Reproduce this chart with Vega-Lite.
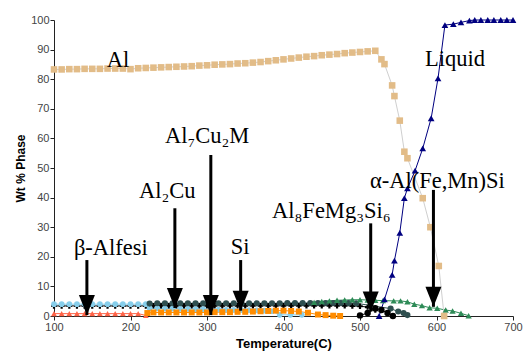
{
  "$schema": "https://vega.github.io/schema/vega-lite/v6.json",
  "width": 459,
  "height": 296,
  "autosize": {"type": "none"},
  "padding": {"left": 54, "top": 20, "right": 10, "bottom": 40},
  "background": "white",
  "config": {"view": {"stroke": null}, "axis": {"labelOverlap": false, "labelFlush": false, "labelBound": false}},
  "datasets": {
    "series": [
      {"s": "BlackX", "t": 100, "v": 3.4}, {"s": "BlackX", "t": 110, "v": 3.4}, {"s": "BlackX", "t": 120, "v": 3.4}, {"s": "BlackX", "t": 130, "v": 3.4}, {"s": "BlackX", "t": 140, "v": 3.4}, {"s": "BlackX", "t": 150, "v": 3.4}, {"s": "BlackX", "t": 160, "v": 3.4}, {"s": "BlackX", "t": 170, "v": 3.4}, {"s": "BlackX", "t": 180, "v": 3.4}, {"s": "BlackX", "t": 190, "v": 3.4}, {"s": "BlackX", "t": 200, "v": 3.4}, {"s": "BlackX", "t": 210, "v": 3.4}, {"s": "BlackX", "t": 220, "v": 3.4}, {"s": "BlackX", "t": 230, "v": 3.5}, {"s": "BlackX", "t": 240, "v": 3.5}, {"s": "BlackX", "t": 250, "v": 3.5}, {"s": "BlackX", "t": 260, "v": 3.5}, {"s": "BlackX", "t": 270, "v": 3.5}, {"s": "BlackX", "t": 280, "v": 3.5}, {"s": "BlackX", "t": 290, "v": 3.5}, {"s": "BlackX", "t": 300, "v": 3.5}, {"s": "BlackX", "t": 310, "v": 3.5}, {"s": "BlackX", "t": 320, "v": 3.5}, {"s": "BlackX", "t": 330, "v": 3.5}, {"s": "BlackX", "t": 340, "v": 3.5}, {"s": "BlackX", "t": 350, "v": 3.5}, {"s": "BlackX", "t": 360, "v": 3.5}, {"s": "BlackX", "t": 370, "v": 3.5}, {"s": "BlackX", "t": 380, "v": 3.5}, {"s": "BlackX", "t": 390, "v": 3.5}, {"s": "BlackX", "t": 400, "v": 3.5}, {"s": "BlackX", "t": 410, "v": 3.5}, {"s": "BlackX", "t": 420, "v": 3.5}, {"s": "BlackX", "t": 430, "v": 3.5}, {"s": "BlackX", "t": 440, "v": 3.5}, {"s": "BlackX", "t": 450, "v": 3.5}, {"s": "BlackX", "t": 460, "v": 3.5}, {"s": "BlackX", "t": 470, "v": 3.5}, {"s": "BlackX", "t": 480, "v": 3.5}, {"s": "BlackX", "t": 490, "v": 3.4}, {"s": "BlackX", "t": 500, "v": 3.3}, {"s": "BlackX", "t": 510, "v": 3.0}, {"s": "BlackX", "t": 520, "v": 2.0},
      {"s": "Sky", "t": 100, "v": 4.0}, {"s": "Sky", "t": 110, "v": 4.0}, {"s": "Sky", "t": 120, "v": 4.0}, {"s": "Sky", "t": 130, "v": 4.0}, {"s": "Sky", "t": 140, "v": 4.0}, {"s": "Sky", "t": 150, "v": 4.0}, {"s": "Sky", "t": 160, "v": 4.0}, {"s": "Sky", "t": 170, "v": 4.0}, {"s": "Sky", "t": 180, "v": 4.0}, {"s": "Sky", "t": 190, "v": 4.0}, {"s": "Sky", "t": 200, "v": 4.0}, {"s": "Sky", "t": 210, "v": 4.0}, {"s": "Sky", "t": 220, "v": 4.0}, {"s": "Sky", "t": 225, "v": 2.6}, {"s": "Sky", "t": 235, "v": 2.6}, {"s": "Sky", "t": 245, "v": 2.5}, {"s": "Sky", "t": 255, "v": 2.5}, {"s": "Sky", "t": 265, "v": 2.4}, {"s": "Sky", "t": 275, "v": 2.4}, {"s": "Sky", "t": 285, "v": 2.3}, {"s": "Sky", "t": 295, "v": 2.3}, {"s": "Sky", "t": 305, "v": 2.2}, {"s": "Sky", "t": 315, "v": 2.2}, {"s": "Sky", "t": 325, "v": 2.1}, {"s": "Sky", "t": 335, "v": 2.1}, {"s": "Sky", "t": 345, "v": 2.0}, {"s": "Sky", "t": 355, "v": 2.0}, {"s": "Sky", "t": 365, "v": 1.9}, {"s": "Sky", "t": 375, "v": 1.8}, {"s": "Sky", "t": 385, "v": 1.6}, {"s": "Sky", "t": 395, "v": 0.4}, {"s": "Sky", "t": 409, "v": 0.4}, {"s": "Sky", "t": 424, "v": 0.4},
      {"s": "Tomato", "t": 100, "v": 0.8}, {"s": "Tomato", "t": 110, "v": 0.8}, {"s": "Tomato", "t": 120, "v": 0.8}, {"s": "Tomato", "t": 130, "v": 0.8}, {"s": "Tomato", "t": 140, "v": 0.8}, {"s": "Tomato", "t": 150, "v": 0.8}, {"s": "Tomato", "t": 160, "v": 0.8}, {"s": "Tomato", "t": 170, "v": 0.8}, {"s": "Tomato", "t": 180, "v": 0.8}, {"s": "Tomato", "t": 190, "v": 0.8}, {"s": "Tomato", "t": 200, "v": 0.8}, {"s": "Tomato", "t": 210, "v": 0.8}, {"s": "Tomato", "t": 220, "v": 0.2},
      {"s": "Orange", "t": 222, "v": 1.0}, {"s": "Orange", "t": 230, "v": 1.2}, {"s": "Orange", "t": 240, "v": 1.2}, {"s": "Orange", "t": 250, "v": 1.2}, {"s": "Orange", "t": 260, "v": 1.2}, {"s": "Orange", "t": 270, "v": 1.2}, {"s": "Orange", "t": 280, "v": 1.2}, {"s": "Orange", "t": 290, "v": 1.2}, {"s": "Orange", "t": 300, "v": 1.2}, {"s": "Orange", "t": 310, "v": 1.3}, {"s": "Orange", "t": 320, "v": 1.3}, {"s": "Orange", "t": 330, "v": 1.3}, {"s": "Orange", "t": 340, "v": 1.4}, {"s": "Orange", "t": 350, "v": 1.4}, {"s": "Orange", "t": 360, "v": 1.5}, {"s": "Orange", "t": 370, "v": 1.6}, {"s": "Orange", "t": 380, "v": 1.7}, {"s": "Orange", "t": 390, "v": 1.8}, {"s": "Orange", "t": 400, "v": 1.8}, {"s": "Orange", "t": 410, "v": 1.7}, {"s": "Orange", "t": 420, "v": 1.5}, {"s": "Orange", "t": 432, "v": 1.1}, {"s": "Orange", "t": 445, "v": 0.5}, {"s": "Orange", "t": 455, "v": 0.3}, {"s": "Orange", "t": 465, "v": 0.1}, {"s": "Orange", "t": 474, "v": 0.0},
      {"s": "Slate", "t": 225, "v": 4.2}, {"s": "Slate", "t": 235, "v": 4.3}, {"s": "Slate", "t": 245, "v": 4.3}, {"s": "Slate", "t": 255, "v": 4.3}, {"s": "Slate", "t": 265, "v": 4.3}, {"s": "Slate", "t": 275, "v": 4.3}, {"s": "Slate", "t": 285, "v": 4.3}, {"s": "Slate", "t": 295, "v": 4.3}, {"s": "Slate", "t": 305, "v": 4.3}, {"s": "Slate", "t": 315, "v": 4.3}, {"s": "Slate", "t": 325, "v": 4.3}, {"s": "Slate", "t": 335, "v": 4.3}, {"s": "Slate", "t": 345, "v": 4.3}, {"s": "Slate", "t": 355, "v": 4.3}, {"s": "Slate", "t": 365, "v": 4.3}, {"s": "Slate", "t": 375, "v": 4.3}, {"s": "Slate", "t": 385, "v": 4.3}, {"s": "Slate", "t": 395, "v": 4.3}, {"s": "Slate", "t": 405, "v": 4.4}, {"s": "Slate", "t": 415, "v": 4.4}, {"s": "Slate", "t": 425, "v": 4.4}, {"s": "Slate", "t": 435, "v": 4.4}, {"s": "Slate", "t": 445, "v": 4.4}, {"s": "Slate", "t": 455, "v": 4.4}, {"s": "Slate", "t": 465, "v": 4.4}, {"s": "Slate", "t": 475, "v": 4.4}, {"s": "Slate", "t": 485, "v": 4.4}, {"s": "Slate", "t": 495, "v": 4.3}, {"s": "Slate", "t": 540, "v": 2.5}, {"s": "Slate", "t": 550, "v": 1.5}, {"s": "Slate", "t": 557, "v": 1.0}, {"s": "Slate", "t": 562, "v": 0.3},
      {"s": "Green", "t": 440, "v": 4.6}, {"s": "Green", "t": 450, "v": 4.9}, {"s": "Green", "t": 460, "v": 5.1}, {"s": "Green", "t": 470, "v": 5.3}, {"s": "Green", "t": 480, "v": 5.4}, {"s": "Green", "t": 490, "v": 5.5}, {"s": "Green", "t": 500, "v": 5.5}, {"s": "Green", "t": 510, "v": 5.4}, {"s": "Green", "t": 520, "v": 5.3}, {"s": "Green", "t": 530, "v": 5.2}, {"s": "Green", "t": 544, "v": 5.1}, {"s": "Green", "t": 553, "v": 5.1}, {"s": "Green", "t": 562, "v": 4.8}, {"s": "Green", "t": 571, "v": 4.0}, {"s": "Green", "t": 581, "v": 3.5}, {"s": "Green", "t": 591, "v": 2.8}, {"s": "Green", "t": 601, "v": 2.6}, {"s": "Green", "t": 612, "v": 2.0}, {"s": "Green", "t": 621, "v": 1.7}, {"s": "Green", "t": 632, "v": 0.9}, {"s": "Green", "t": 642, "v": 0.1},
      {"s": "BlackO", "t": 500, "v": 0.2}, {"s": "BlackO", "t": 510, "v": 1.0}, {"s": "BlackO", "t": 520, "v": 2.6}, {"s": "BlackO", "t": 528, "v": 2.0}, {"s": "BlackO", "t": 536, "v": 1.0}, {"s": "BlackO", "t": 543, "v": 0.0},
      {"s": "Al", "t": 100, "v": 83.3}, {"s": "Al", "t": 110, "v": 83.3}, {"s": "Al", "t": 120, "v": 83.4}, {"s": "Al", "t": 130, "v": 83.4}, {"s": "Al", "t": 140, "v": 83.5}, {"s": "Al", "t": 150, "v": 83.5}, {"s": "Al", "t": 160, "v": 83.5}, {"s": "Al", "t": 170, "v": 83.6}, {"s": "Al", "t": 180, "v": 83.6}, {"s": "Al", "t": 190, "v": 83.6}, {"s": "Al", "t": 200, "v": 83.4}, {"s": "Al", "t": 210, "v": 83.7}, {"s": "Al", "t": 220, "v": 83.8}, {"s": "Al", "t": 230, "v": 83.9}, {"s": "Al", "t": 240, "v": 84.0}, {"s": "Al", "t": 250, "v": 84.1}, {"s": "Al", "t": 260, "v": 84.2}, {"s": "Al", "t": 270, "v": 84.3}, {"s": "Al", "t": 280, "v": 84.4}, {"s": "Al", "t": 290, "v": 84.6}, {"s": "Al", "t": 300, "v": 84.7}, {"s": "Al", "t": 310, "v": 84.9}, {"s": "Al", "t": 320, "v": 85.0}, {"s": "Al", "t": 330, "v": 85.1}, {"s": "Al", "t": 340, "v": 85.3}, {"s": "Al", "t": 350, "v": 85.4}, {"s": "Al", "t": 360, "v": 85.6}, {"s": "Al", "t": 370, "v": 85.8}, {"s": "Al", "t": 380, "v": 86.1}, {"s": "Al", "t": 390, "v": 86.4}, {"s": "Al", "t": 400, "v": 86.7}, {"s": "Al", "t": 410, "v": 87.0}, {"s": "Al", "t": 420, "v": 87.3}, {"s": "Al", "t": 430, "v": 87.6}, {"s": "Al", "t": 440, "v": 87.8}, {"s": "Al", "t": 450, "v": 88.1}, {"s": "Al", "t": 460, "v": 88.3}, {"s": "Al", "t": 470, "v": 88.5}, {"s": "Al", "t": 480, "v": 88.8}, {"s": "Al", "t": 490, "v": 89.0}, {"s": "Al", "t": 500, "v": 89.2}, {"s": "Al", "t": 510, "v": 89.4}, {"s": "Al", "t": 520, "v": 89.6}, {"s": "Al", "t": 528, "v": 86.7}, {"s": "Al", "t": 532, "v": 85.1}, {"s": "Al", "t": 542, "v": 77.9}, {"s": "Al", "t": 545, "v": 74.3}, {"s": "Al", "t": 552, "v": 66.0}, {"s": "Al", "t": 558, "v": 55.5}, {"s": "Al", "t": 562, "v": 53.3}, {"s": "Al", "t": 582, "v": 39.8}, {"s": "Al", "t": 592, "v": 30.0}, {"s": "Al", "t": 603, "v": 16.9}, {"s": "Al", "t": 610, "v": 0.0},
      {"s": "Liquid", "t": 525, "v": 0.0}, {"s": "Liquid", "t": 532, "v": 5.6}, {"s": "Liquid", "t": 542, "v": 13.9}, {"s": "Liquid", "t": 545, "v": 18.7}, {"s": "Liquid", "t": 552, "v": 28.1}, {"s": "Liquid", "t": 558, "v": 39.8}, {"s": "Liquid", "t": 562, "v": 43.1}, {"s": "Liquid", "t": 572, "v": 49.1}, {"s": "Liquid", "t": 582, "v": 56.6}, {"s": "Liquid", "t": 593, "v": 66.8}, {"s": "Liquid", "t": 602, "v": 80.3}, {"s": "Liquid", "t": 611, "v": 98.3}, {"s": "Liquid", "t": 622, "v": 98.6}, {"s": "Liquid", "t": 632, "v": 99.2}, {"s": "Liquid", "t": 643, "v": 99.8}, {"s": "Liquid", "t": 650, "v": 100}, {"s": "Liquid", "t": 658, "v": 100}, {"s": "Liquid", "t": 667, "v": 100}, {"s": "Liquid", "t": 675, "v": 100}, {"s": "Liquid", "t": 684, "v": 100}, {"s": "Liquid", "t": 692, "v": 100}, {"s": "Liquid", "t": 700, "v": 100}
    ],
    "arrows": [
      {"t": 143, "top": 18.9, "tip": 0.3},
      {"t": 258, "top": 36.4, "tip": 2.7},
      {"t": 305, "top": 54.4, "tip": 0.3},
      {"t": 344, "top": 18.9, "tip": 1.8},
      {"t": 514, "top": 31.3, "tip": 1.5},
      {"t": 596, "top": 42.6, "tip": 3.1}
    ],
    "labels": [
      {"label": "Al", "t": 169, "v": 84.1},
      {"label": "Liquid", "t": 585, "v": 84.5},
      {"label": "Al₇Cu₂M", "t": 245, "v": 58.4},
      {"label": "Al₂Cu", "t": 211, "v": 39.9},
      {"label": "β-Alfesi", "t": 126, "v": 20.6},
      {"label": "Si", "t": 331, "v": 20.9},
      {"label": "Al₈FeMg₃Si₆", "t": 385, "v": 33.1},
      {"label": "α-Al(Fe,Mn)Si", "t": 513, "v": 43.2}
    ]
  },
  "layer": [
    {
      "data": {"name": "series"},
      "mark": {"type": "line", "strokeWidth": 1},
      "encoding": {
        "x": {"field": "t", "type": "quantitative", "scale": {"domain": [100, 700], "nice": false, "zero": false},
          "axis": {"values": [100,150,200,250,300,350,400,450,500,550,600,650,700], "tickCount": 12, "labelExpr": "datum.value % 100 === 0 ? datum.label : ''", "labelOverlap": false, "labelFlush": false, "title": "Temperature(C)", "grid": false, "domainColor": "#222", "tickColor": "#222", "tickSize": 4, "labelFont": "Liberation Sans", "labelFontSize": 11, "labelColor": "#444", "labelPadding": 1, "titleFont": "Liberation Sans", "titleFontSize": 13, "titleFontWeight": "bold", "titleColor": "#000", "titlePadding": 5}},
        "y": {"field": "v", "type": "quantitative", "scale": {"domain": [0, 100], "nice": false},
          "axis": {"values": [0,5,10,15,20,25,30,35,40,45,50,55,60,65,70,75,80,85,90,95,100], "tickCount": 20, "labelExpr": "datum.value % 10 === 0 ? datum.label : ''", "labelOverlap": false, "labelFlush": false, "title": "Wt % Phase", "grid": false, "domainColor": "#222", "tickColor": "#222", "tickSize": 4, "labelFont": "Liberation Sans", "labelFontSize": 11, "labelColor": "#444", "labelPadding": 1, "titleFont": "Liberation Sans", "titleFontSize": 12, "titleFontWeight": "bold", "titleColor": "#000", "titlePadding": 3}},
        "stroke": {"field": "s", "type": "nominal", "legend": null,
          "scale": {"domain": ["BlackX","Sky","Tomato","Orange","Slate","Green","BlackO","Al","Liquid"], "range": ["#000000","#87CEEB","#FF6347","#FF8C00","#2F4F4F","#2E8B57","#000000","#CFCFCF","#000080"]}},
        "order": {"field": "t", "type": "quantitative"}
      }
    },
    {
      "data": {"name": "series"},
      "mark": {"type": "point", "filled": true, "opacity": 1, "strokeWidth": 0},
      "encoding": {
        "x": {"field": "t", "type": "quantitative", "axis": {"values": [100,150,200,250,300,350,400,450,500,550,600,650,700], "tickCount": 12}},
        "y": {"field": "v", "type": "quantitative", "axis": {"values": [0,5,10,15,20,25,30,35,40,45,50,55,60,65,70,75,80,85,90,95,100], "tickCount": 20}},
        "fill": {"field": "s", "type": "nominal", "legend": null,
          "scale": {"domain": ["BlackX","Sky","Tomato","Orange","Slate","Green","BlackO","Al","Liquid"], "range": ["#000000","#87CEEB","#FF6347","#FF8C00","#2F4F4F","#2E8B57","#000000","#E2BC88","#000080"]}},
        "shape": {"field": "s", "type": "nominal", "legend": null,
          "scale": {"domain": ["BlackX","Sky","Tomato","Orange","Slate","Green","BlackO","Al","Liquid"], "range": ["cross","circle","triangle-up","square","circle","triangle-up","circle","square","triangle-up"]}},
        "size": {"field": "s", "type": "nominal", "legend": null,
          "scale": {"domain": ["BlackX","Sky","Tomato","Orange","Slate","Green","BlackO","Al","Liquid"], "range": [30, 45, 35, 35, 45, 40, 50, 55, 35]}}
      }
    },
    {
      "data": {"name": "arrows"},
      "mark": {"type": "rule", "strokeWidth": 3, "color": "#000"},
      "encoding": {
        "x": {"field": "t", "type": "quantitative", "axis": {"values": [100,150,200,250,300,350,400,450,500,550,600,650,700], "tickCount": 12}},
        "y": {"field": "top", "type": "quantitative", "axis": {"values": [0,5,10,15,20,25,30,35,40,45,50,55,60,65,70,75,80,85,90,95,100], "tickCount": 20}},
        "y2": {"field": "tip"}
      }
    },
    {
      "data": {"name": "arrows"},
      "mark": {"type": "point", "shape": "M-0.8,-2L0.8,-2L0,0Z", "size": 400, "filled": true, "fill": "#000", "strokeWidth": 0, "opacity": 1},
      "encoding": {
        "x": {"field": "t", "type": "quantitative", "axis": {"values": [100,150,200,250,300,350,400,450,500,550,600,650,700], "tickCount": 12}},
        "y": {"field": "tip", "type": "quantitative", "axis": {"values": [0,5,10,15,20,25,30,35,40,45,50,55,60,65,70,75,80,85,90,95,100], "tickCount": 20}}
      }
    },
    {
      "data": {"name": "labels"},
      "mark": {"type": "text", "font": "Liberation Serif", "fontSize": 22.5, "align": "left", "baseline": "alphabetic", "color": "#000"},
      "encoding": {
        "x": {"field": "t", "type": "quantitative", "axis": {"values": [100,150,200,250,300,350,400,450,500,550,600,650,700], "tickCount": 12}},
        "y": {"field": "v", "type": "quantitative", "axis": {"values": [0,5,10,15,20,25,30,35,40,45,50,55,60,65,70,75,80,85,90,95,100], "tickCount": 20}},
        "text": {"field": "label"}
      }
    }
  ]
}
